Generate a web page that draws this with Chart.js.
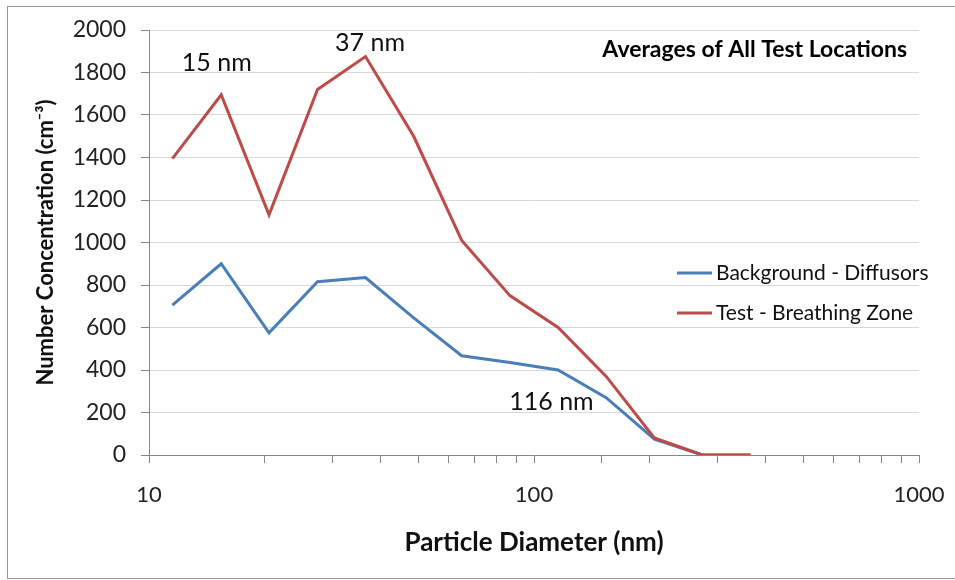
<!DOCTYPE html>
<html>
<head>
<meta charset="utf-8">
<script src="https://cdn.jsdelivr.net/npm/chart.js@4.4.1/dist/chart.umd.min.js"></script>
<style>
  html, body { margin: 0; padding: 0; background: #fff; }
  #wrap { width: 955px; height: 580px; }
</style>
</head>
<body>
<div id="wrap"><canvas id="sizeChart" width="955" height="580"></canvas></div>
<script>
// particle size bins (nm) and averaged concentrations (cm^-3)
const diameters = [11.5, 15.4, 20.5, 27.4, 36.5, 48.7, 64.9, 86.6, 115.5, 154, 205.4, 273.8, 365.2];
const background = [705, 900, 575, 815, 835, 645, 467, 435, 400, 270, 75, 0, 0];
const breathing = [1395, 1695, 1130, 1720, 1875, 1500, 1010, 750, 600, 370, 80, 0, 0];
const seriesNames = ['Background - Diffusors', 'Test - Breathing Zone'];
const seriesColors = ['#4A7EBB', '#BE4B48'];
const xLabels = [10, 100, 1000];
const peakNotes = [
    { text: '15 nm', x: 15.0, y: 1845 },
    { text: '37 nm', x: 37.5, y: 1940 },
    { text: '116 nm', x: 111, y: 250 }
];
const chartTitle = 'Averages of All Test Locations';

const FONT = 'Lato, "Open Sans", sans-serif';

function toPoints(values) {
    return diameters.map((d, i) => ({ x: d, y: values[i] }));
}

// frame, inside title, legend and peak labels
const extras = {
    id: 'extras',
    beforeDraw(chart) {
        const c = chart.ctx;
        c.save();
        c.fillStyle = '#fff';
        c.fillRect(0, 0, chart.width, chart.height);
        c.strokeStyle = '#9a9a9a';
        c.lineWidth = 1;
        c.strokeRect(7.5, 6.5, 970, 572);
        c.restore();
    },
    afterDraw(chart) {
        const c = chart.ctx;
        const xs = chart.scales.x, ys = chart.scales.y;
        const area = chart.chartArea;
        c.save();
        c.fillStyle = '#000';
        c.textBaseline = 'middle';

        c.font = 'bold 23px ' + FONT;
        c.textAlign = 'right';
        c.fillText(chartTitle, area.right - 12, 50);

        c.font = '25px ' + FONT;
        c.textAlign = 'center';
        c.fillStyle = '#111';
        peakNotes.forEach(n => {
            c.fillText(n.text, xs.getPixelForValue(n.x), ys.getPixelForValue(n.y));
        });

        c.font = '21px ' + FONT;
        c.textAlign = 'left';
        chart.data.datasets.forEach((ds, i) => {
            const y = 273 + i * 40;
            c.strokeStyle = ds.borderColor;
            c.lineWidth = 3;
            c.beginPath();
            c.moveTo(677, y);
            c.lineTo(712, y);
            c.stroke();
            c.fillStyle = '#111';
            c.fillText(ds.label, 716, y);
        });
        c.restore();
    }
};

const ctx = document.getElementById('sizeChart').getContext('2d');
const sizeChart = new Chart(ctx, {
    type: 'line',
    data: {
        datasets: [
            {
                label: seriesNames[0],
                data: toPoints(background),
                borderColor: seriesColors[0],
                backgroundColor: seriesColors[0],
                borderWidth: 3,
                pointRadius: 0,
                fill: false,
                tension: 0,
                order: 2
            },
            {
                label: seriesNames[1],
                data: toPoints(breathing),
                borderColor: seriesColors[1],
                backgroundColor: seriesColors[1],
                borderWidth: 3,
                pointRadius: 0,
                fill: false,
                tension: 0,
                order: 1
            }
        ]
    },
    options: {
        responsive: false,
        animation: false,
        layout: { padding: { top: 30, right: 36, left: 0, bottom: 0 } },
        plugins: {
            legend: { display: false },
            tooltip: { enabled: false }
        },
        scales: {
            x: {
                type: 'logarithmic',
                min: 10,
                max: 1000,
                border: { color: '#868686', width: 1 },
                grid: {
                    drawOnChartArea: false,
                    drawTicks: true,
                    tickLength: 8,
                    tickColor: '#868686'
                },
                ticks: {
                    color: '#222',
                    font: { family: FONT, size: 22 },
                    padding: 19,
                    autoSkip: false,
                    maxRotation: 0,
                    callback: v => xLabels.includes(v) ? String(v) : ''
                },
                title: {
                    display: true,
                    text: 'Particle Diameter (nm)',
                    color: '#111',
                    font: { family: FONT, size: 26, weight: 'bold' },
                    padding: { top: 0, bottom: 22 }
                },
                afterFit: s => {
                    s.height = 125;
                    s.paddingLeft = 0;
                    s.paddingRight = 0;
                }
            },
            y: {
                min: 0,
                max: 2000,
                border: { color: '#868686', width: 1 },
                grid: {
                    color: '#d9d9d9',
                    lineWidth: 1,
                    tickLength: 8,
                    tickColor: '#868686'
                },
                ticks: {
                    stepSize: 200,
                    color: '#222',
                    font: { family: FONT, size: 23 },
                    padding: 15,
                    callback: v => String(v)
                },
                title: {
                    display: true,
                    text: 'Number Concentration (cm\u207B\u00B3)',
                    color: '#111',
                    font: { family: FONT, size: 22, weight: 'bold' },
                    padding: { top: 33, bottom: 0 }
                },
                afterFit: s => {
                    s.width = 149;
                    s.paddingTop = 0;
                    s.paddingBottom = 0;
                }
            }
        }
    },
    plugins: [extras]
});
</script>
</body>
</html>
